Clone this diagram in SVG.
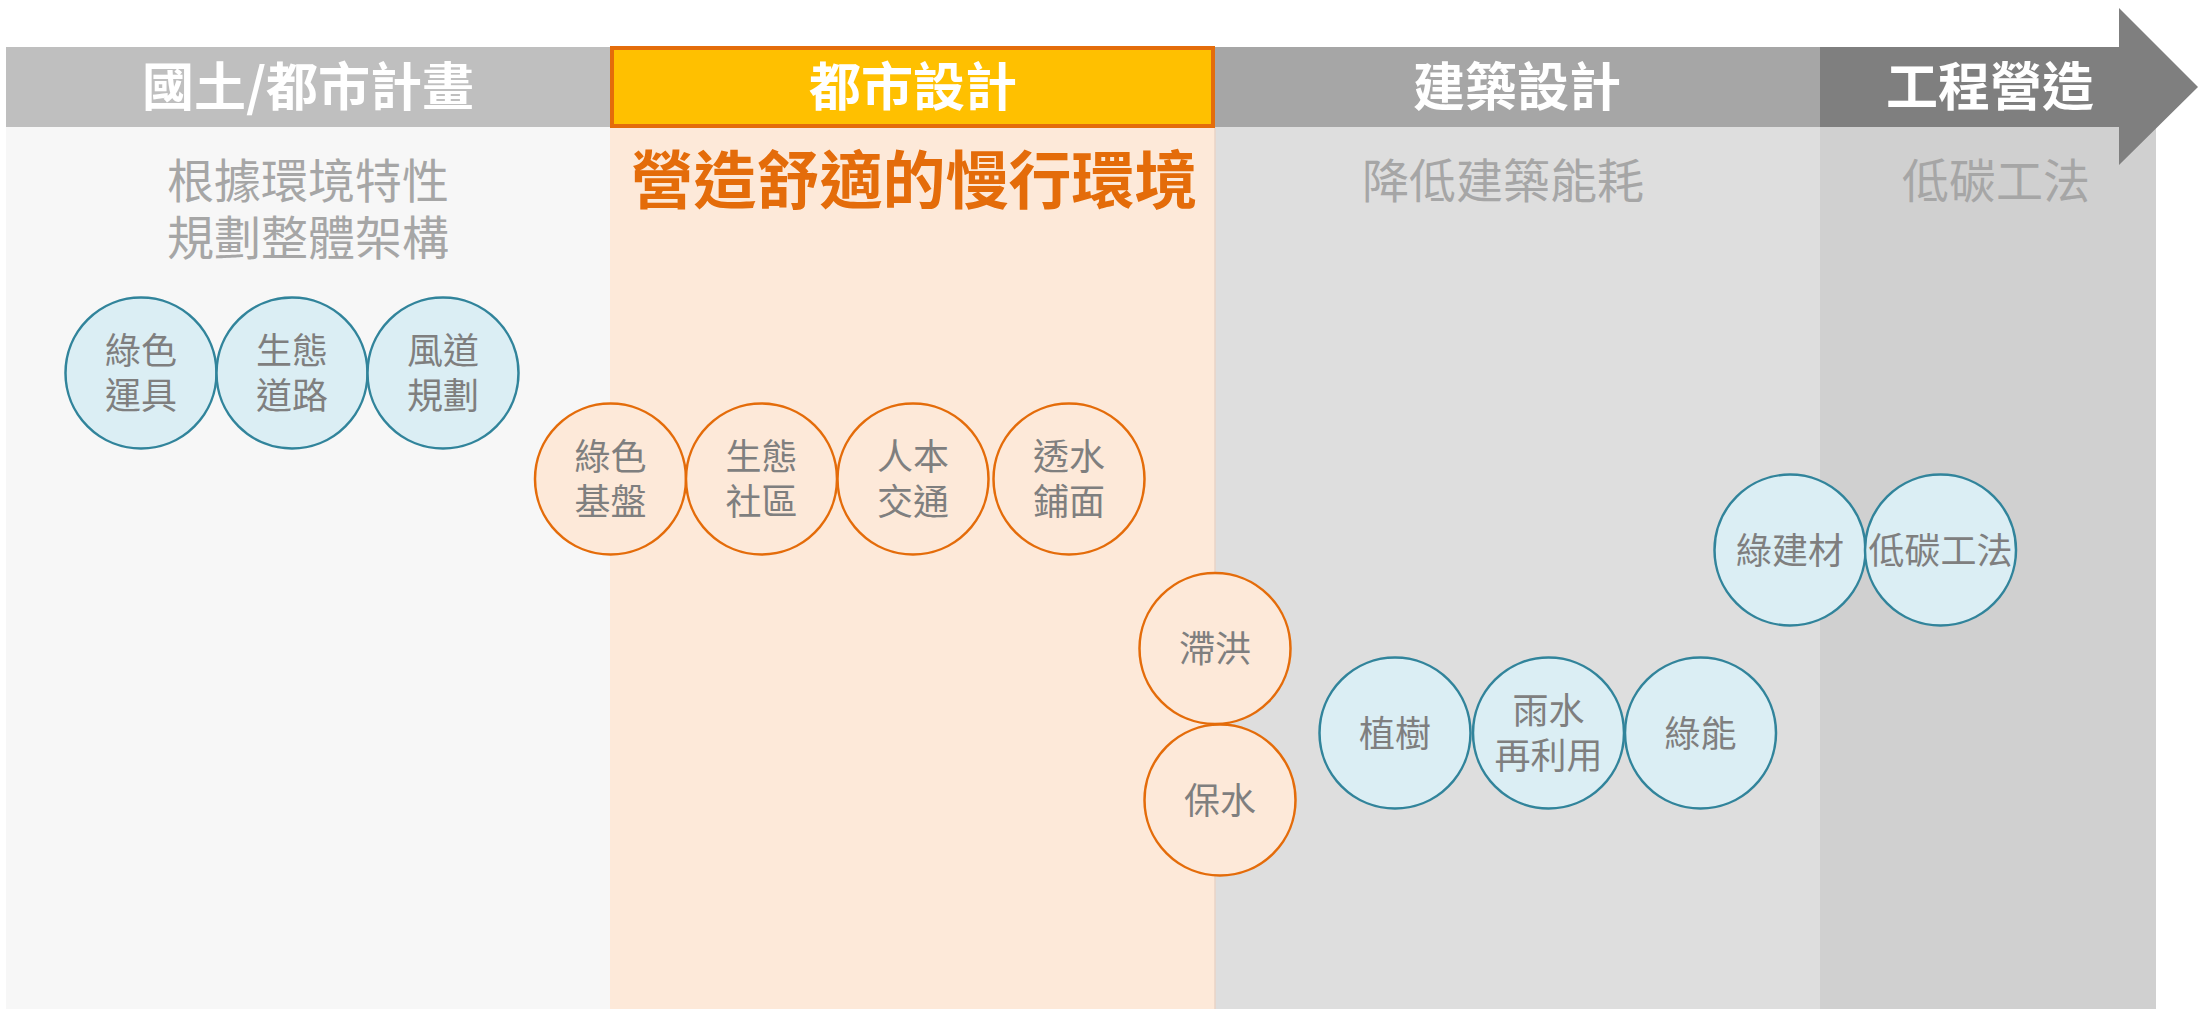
<svg xmlns="http://www.w3.org/2000/svg" width="2202" height="1009" viewBox="0 0 2202 1009">
<style>
text{font-family:"Noto Sans CJK TC","Noto Sans CJK SC",sans-serif;text-anchor:middle}
.hd{fill:#ffffff;font-size:52px;font-weight:700}
.sub{fill:#a6a6a6;font-size:47px}
.ttl{fill:#e46c0a;font-size:63px;font-weight:700}
.ct{fill:#7f7f7f;font-size:36px}
.cb{fill:#dbeef4;stroke:#31849b;stroke-width:2.5}
.co{fill:#fde9d9;stroke:#e46c0a;stroke-width:2.5}
</style>
<rect width="2202" height="1009" fill="#ffffff"/>
<g id="columns">
<rect x="6" y="127" width="604" height="882" fill="#f7f7f7"/>
<rect x="610" y="127" width="605" height="882" fill="#fde9d9"/>
<rect x="1215" y="127" width="605" height="882" fill="#dedede"/>
<line x1="1215" y1="127" x2="1215" y2="1009" stroke="#e8d3c6" stroke-width="1.5"/>
<rect x="1820" y="127" width="336" height="882" fill="#d0d0d0"/>
</g>
<g id="header-1">
<rect x="6" y="47" width="604" height="80" fill="#bfbfbf"/>
<text class="hd" x="308" y="106">國土/都市計畫</text>
</g>
<g id="header-2">
<rect x="612" y="48" width="601" height="78" fill="#ffc000" stroke="#e46c0a" stroke-width="4"/>
<text class="hd" x="913" y="106">都市設計</text>
</g>
<g id="header-3">
<rect x="1215" y="47" width="605" height="80" fill="#a6a6a6"/>
<text class="hd" x="1517" y="106">建築設計</text>
</g>
<g id="header-4">
<polygon points="1820,47 2119,47 2119,8 2198,87 2119,165 2119,127 1820,127" fill="#7f7f7f"/>
<text class="hd" x="1990" y="106">工程營造</text>
</g>
<g id="subtitles">
<text class="sub" x="308" y="198">根據環境特性</text>
<text class="sub" x="308" y="255">規劃整體架構</text>
<text class="ttl" x="914" y="203">營造舒適的慢行環境</text>
<text class="sub" x="1503" y="198">降低建築能耗</text>
<text class="sub" x="1996" y="198">低碳工法</text>
</g>
<g id="n-lvyun"><circle class="cb" cx="141" cy="373" r="75.5"/><text class="ct" x="141" y="364">綠色</text><text class="ct" x="141" y="409">運具</text></g>
<g id="n-shengtai-road"><circle class="cb" cx="292" cy="373" r="75.5"/><text class="ct" x="292" y="364">生態</text><text class="ct" x="292" y="409">道路</text></g>
<g id="n-fengdao"><circle class="cb" cx="443" cy="373" r="75.5"/><text class="ct" x="443" y="364">風道</text><text class="ct" x="443" y="409">規劃</text></g>
<g id="n-lvse-jipan"><circle class="co" cx="610.5" cy="479" r="75.5"/><text class="ct" x="610.5" y="470">綠色</text><text class="ct" x="610.5" y="515">基盤</text></g>
<g id="n-shengtai-shequ"><circle class="co" cx="761.5" cy="479" r="75.5"/><text class="ct" x="761.5" y="470">生態</text><text class="ct" x="761.5" y="515">社區</text></g>
<g id="n-renben"><circle class="co" cx="913" cy="479" r="75.5"/><text class="ct" x="913" y="470">人本</text><text class="ct" x="913" y="515">交通</text></g>
<g id="n-toushui"><circle class="co" cx="1069" cy="479" r="75.5"/><text class="ct" x="1069" y="470">透水</text><text class="ct" x="1069" y="515">鋪面</text></g>
<g id="n-zhihong"><circle class="co" cx="1215" cy="648.5" r="75.5"/><text class="ct" x="1215" y="662">滯洪</text></g>
<g id="n-baoshui"><circle class="co" cx="1220" cy="800" r="75.5"/><text class="ct" x="1220" y="814">保水</text></g>
<g id="n-zhishu"><circle class="cb" cx="1395" cy="733" r="75.5"/><text class="ct" x="1395" y="747">植樹</text></g>
<g id="n-yushui"><circle class="cb" cx="1548.5" cy="733" r="75.5"/><text class="ct" x="1548.5" y="724">雨水</text><text class="ct" x="1548.5" y="769">再利用</text></g>
<g id="n-lvneng"><circle class="cb" cx="1700.5" cy="733" r="75.5"/><text class="ct" x="1700.5" y="747">綠能</text></g>
<g id="n-lvjiancai"><circle class="cb" cx="1790" cy="550" r="75.5"/><text class="ct" x="1790" y="564">綠建材</text></g>
<g id="n-ditan"><circle class="cb" cx="1940.5" cy="550" r="75.5"/><text class="ct" x="1940.5" y="564">低碳工法</text></g>
<g id="connectors"></g>
</svg>
